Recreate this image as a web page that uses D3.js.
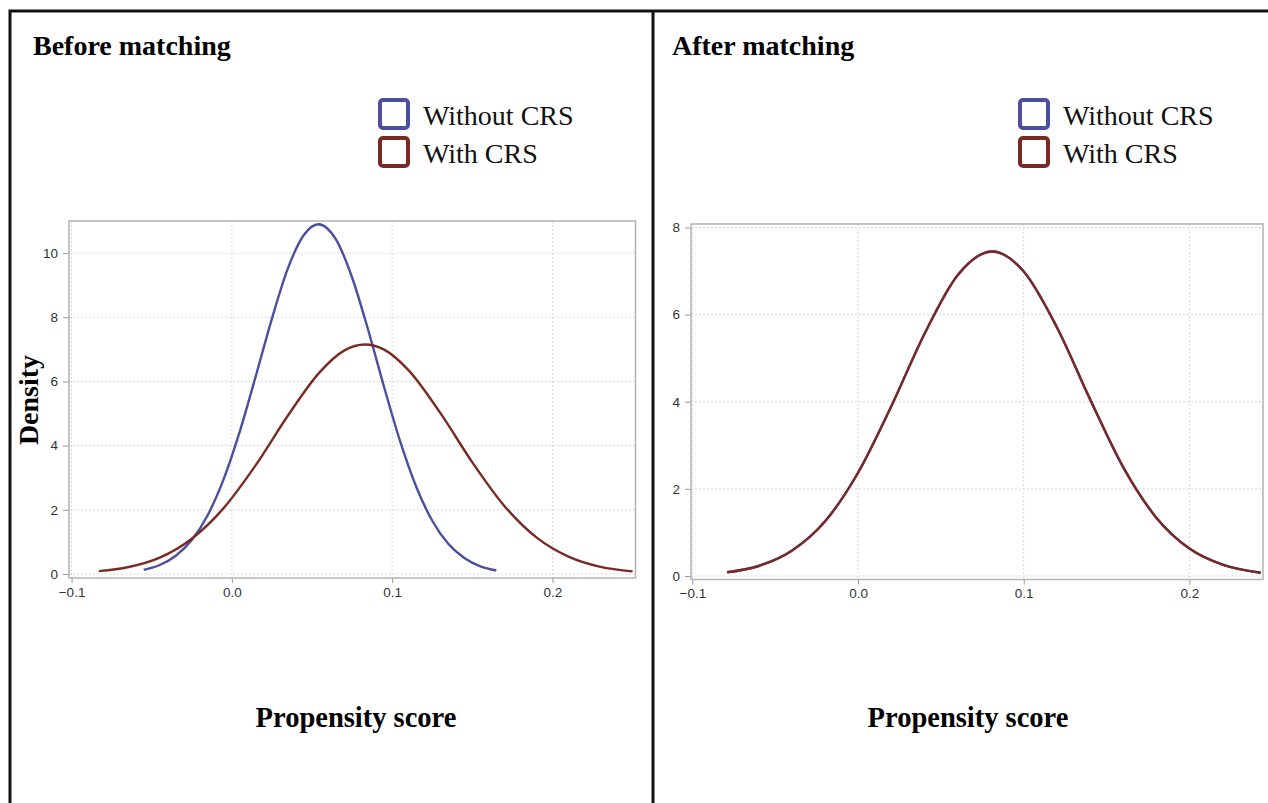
<!DOCTYPE html>
<html>
<head>
<meta charset="utf-8">
<script src="https://cdn.jsdelivr.net/npm/d3@7"></script>
<style>
  body { margin: 0; background: #fff; }
  .tick line { stroke: #999; }
</style>
</head>
<body>
<div id="chart"></div>
<script>
// Chart data
var seriesNames = ["Without CRS", "With CRS"];
var seriesColors = ["#4b4f9d", "#7a2a24"];

// Before matching - without CRS
var beforeWithoutX = [-0.055, -0.045, -0.035, -0.025, -0.015, -0.005, 0.005, 0.015, 0.025, 0.035, 0.045, 0.054,
    0.065, 0.075, 0.085, 0.095, 0.105, 0.115, 0.125, 0.135, 0.145, 0.155, 0.165];
var beforeWithoutY = [0.13, 0.28, 0.57, 1.06, 1.84, 2.97, 4.45, 6.18, 7.96, 9.53, 10.57, 10.9,
    10.42, 9.24, 7.61, 5.82, 4.13, 2.72, 1.66, 0.94, 0.50, 0.24, 0.11];

// Before matching - with CRS
var beforeWithX = [-0.083, -0.065, -0.045, -0.025, -0.005, 0.015, 0.035, 0.055, 0.070, 0.083,
    0.095, 0.110, 0.130, 0.150, 0.170, 0.190, 0.210, 0.230, 0.250];
var beforeWithY = [0.09, 0.21, 0.51, 1.10, 2.06, 3.40, 4.94, 6.30, 6.96, 7.15,
    6.99, 6.36, 5.02, 3.48, 2.12, 1.14, 0.54, 0.22, 0.08];

// After matching - both groups overlap
var afterX = [-0.079, -0.06, -0.04, -0.02, 0.0, 0.02, 0.04, 0.06, 0.081, 0.10, 0.12, 0.14, 0.16, 0.18, 0.20, 0.22, 0.243];
var afterWithoutY = [0.085, 0.23, 0.58, 1.25, 2.37, 3.89, 5.55, 6.90, 7.45, 6.99, 5.71, 4.06, 2.50, 1.34, 0.63, 0.26, 0.076];
var afterWithY = [0.085, 0.23, 0.58, 1.25, 2.37, 3.89, 5.55, 6.90, 7.45, 6.99, 5.71, 4.06, 2.50, 1.34, 0.63, 0.26, 0.076];

var xTicks = [-0.1, 0.0, 0.1, 0.2];
var beforeYTicks = [0, 2, 4, 6, 8, 10];
var afterYTicks = [0, 2, 4, 6, 8];

var svgWidth = 1268;
var svgHeight = 803;
var serif = "Liberation Serif, Times New Roman, serif";

var svg = d3.select("#chart")
    .append("svg")
    .attr("width", svgWidth)
    .attr("height", svgHeight);

// outer frame and divider
svg.append("path")
    .attr("d", "M10,803 L10,11 L1268,11 M653,11 L653,803")
    .attr("fill", "none")
    .attr("stroke", "#111")
    .attr("stroke-width", 3);

function toPoints(xs, ys) {
    return xs.map((d, i) => ({ x: d, y: ys[i] }));
}

function styleAxis(a) {
    a.select(".domain").remove();
    a.selectAll(".tick text")
        .style("font-size", "13.5px")
        .style("font-family", "Liberation Sans, Arial, sans-serif")
        .attr("fill", "#333");
}

function drawPanel(p) {
    var g = svg.append("g");

    var x = d3.scaleLinear().domain(p.xDomain).range([p.left, p.right]);
    var y = d3.scaleLinear().domain(p.yDomain).range([p.bottom, p.top]);

    // title
    g.append("text")
        .attr("x", p.titleX)
        .attr("y", 55)
        .attr("font-family", serif)
        .attr("font-weight", "bold")
        .attr("font-size", "28px")
        .text(p.title);

    // legend
    var legend = g.append("g")
        .attr("transform", `translate(${p.legendX}, 100)`);
    seriesNames.forEach(function(name, i) {
        legend.append("rect")
            .attr("x", 2)
            .attr("y", i * 38)
            .attr("width", 28)
            .attr("height", 28)
            .attr("rx", 3)
            .attr("fill", "none")
            .attr("stroke", seriesColors[i])
            .attr("stroke-width", 4);
        legend.append("text")
            .attr("x", 45)
            .attr("y", i * 38 + 25)
            .attr("font-family", serif)
            .attr("font-size", "28px")
            .attr("fill", "#111")
            .text(name);
    });

    // dotted grid
    g.selectAll(null)
        .data(xTicks)
        .enter()
        .append("line")
        .attr("x1", d => x(d)).attr("x2", d => x(d))
        .attr("y1", p.top).attr("y2", p.bottom)
        .attr("stroke", "#d8d8d8")
        .attr("stroke-dasharray", "2,2");
    g.selectAll(null)
        .data(p.yTicks)
        .enter()
        .append("line")
        .attr("x1", p.left).attr("x2", p.right)
        .attr("y1", d => y(d)).attr("y2", d => y(d))
        .attr("stroke", "#d8d8d8")
        .attr("stroke-dasharray", "2,2");

    // axes
    var bottomAxis = d3.axisBottom(x).tickValues(xTicks).tickFormat(d3.format(".1f")).tickSize(5).tickPadding(4);
    var leftAxis = d3.axisLeft(y).tickValues(p.yTicks).tickSize(6).tickPadding(5);

    g.append("g")
        .attr("transform", `translate(0, ${p.bottom})`)
        .call(bottomAxis)
        .call(styleAxis);
    g.append("g")
        .attr("transform", `translate(${p.left}, 0)`)
        .call(leftAxis)
        .call(styleAxis);

    // plot frame
    g.append("rect")
        .attr("x", p.left)
        .attr("y", p.top)
        .attr("width", p.right - p.left)
        .attr("height", p.bottom - p.top)
        .attr("fill", "none")
        .attr("stroke", "#b3b3b3")
        .attr("stroke-width", 1.5);

    // density curves
    var line = d3.line()
        .x(d => x(d.x))
        .y(d => y(d.y))
        .curve(d3.curveMonotoneX);

    p.series.forEach(function(s, i) {
        g.append("path")
            .datum(s)
            .attr("d", line)
            .attr("fill", "none")
            .attr("stroke", seriesColors[i])
            .attr("stroke-width", 2.4);
    });

    // x label
    g.append("text")
        .attr("x", p.xLabelX)
        .attr("y", 727)
        .attr("text-anchor", "middle")
        .attr("font-family", serif)
        .attr("font-weight", "bold")
        .attr("font-size", "28.5px")
        .text("Propensity score");
}

drawPanel({
    title: "Before matching",
    titleX: 33,
    legendX: 378,
    left: 69, right: 635.5, top: 221, bottom: 578,
    xDomain: [-0.1016, 0.2518],
    yDomain: [-0.125, 11.0],
    yTicks: beforeYTicks,
    xLabelX: 356,
    series: [toPoints(beforeWithoutX, beforeWithoutY), toPoints(beforeWithX, beforeWithY)]
});

drawPanel({
    title: "After matching",
    titleX: 672,
    legendX: 1018,
    left: 691, right: 1263, top: 224, bottom: 579.5,
    xDomain: [-0.1008, 0.2444],
    yDomain: [-0.08, 8.08],
    yTicks: afterYTicks,
    xLabelX: 968,
    series: [toPoints(afterX, afterWithoutY), toPoints(afterX, afterWithY)]
});

// y label (left panel only)
svg.append("text")
    .attr("transform", "translate(38, 400) rotate(-90)")
    .attr("text-anchor", "middle")
    .attr("font-family", serif)
    .attr("font-weight", "bold")
    .attr("font-size", "28px")
    .text("Density");
</script>
</body>
</html>
